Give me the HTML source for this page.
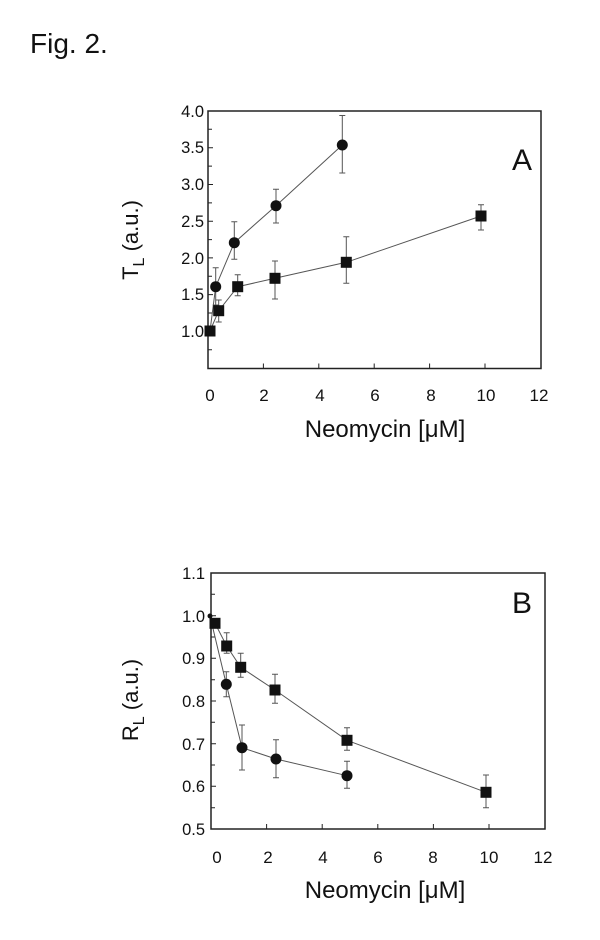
<!DOCTYPE html>
<html><head><meta charset="utf-8"><style>
html,body{margin:0;padding:0;background:#fff;}
svg{display:block;font-family:"Liberation Sans",Arial,sans-serif;}
</style></head><body>
<svg width="600" height="940" viewBox="0 0 600 940" xmlns="http://www.w3.org/2000/svg">
<text x="30" y="53" font-size="28" fill="#111">Fig. 2.</text>

<!-- Panel A -->
<g stroke="#222" fill="none">
<rect x="208" y="111" width="333" height="257.5" stroke-width="1.5"/>
<g stroke-width="1">
<path d="M208 129.3h4M208 147.8h5M208 166.1h4M208 184.5h5M208 202.9h4M208 221.2h5M208 239.6h4M208 257.9h5M208 276.3h4M208 294.6h5M208 313h4M208 331.3h5M208 349.7h4"/>
<path d="M263.4 368.5v-5M318.8 368.5v-5M374.2 368.5v-5M429.6 368.5v-5M485 368.5v-5"/>
</g>
</g>
<g font-size="16.5" fill="#111" text-anchor="end">
<text x="204" y="117">4.0</text><text x="204" y="153">3.5</text><text x="204" y="190">3.0</text>
<text x="204" y="227">2.5</text><text x="204" y="264">2.0</text><text x="204" y="300">1.5</text>
<text x="204" y="337">1.0</text>
</g>
<g font-size="17" fill="#111" text-anchor="middle">
<text x="210" y="401">0</text><text x="264" y="401">2</text><text x="320" y="401">4</text>
<text x="375" y="401">6</text><text x="431" y="401">8</text><text x="486" y="401">10</text><text x="539" y="401">12</text>
</g>
<text x="385" y="437" font-size="24" fill="#111" text-anchor="middle">Neomycin [μM]</text>
<text transform="translate(138,240) rotate(-90)" font-size="22" fill="#111" text-anchor="middle">T<tspan font-size="16" dy="6">L</tspan><tspan dy="-6">  (a.u.)</tspan></text>
<text x="512" y="170" font-size="30" fill="#111">A</text>

<g stroke="#555" stroke-width="1" fill="none">
<polyline points="210,331 215.7,286.7 234.3,242.7 276,205.7 342.3,145"/>
<polyline points="210,331 218.7,310.7 237.7,286.7 275,278.3 346.3,262.3 481,216"/>
<path d="M215.7 267.7V305M212.7 267.7h6M212.7 305h6"/>
<path d="M234.3 221.7V259.3M231.3 221.7h6M231.3 259.3h6"/>
<path d="M276 189.3V223M273 189.3h6M273 223h6"/>
<path d="M342.3 115.5V173M339.3 115.5h6M339.3 173h6"/>
<path d="M218.7 300V322M215.7 300h6M215.7 322h6"/>
<path d="M237.7 274.7V295.7M234.7 274.7h6M234.7 295.7h6"/>
<path d="M275 261V299M272 261h6M272 299h6"/>
<path d="M346.3 236.7V283.3M343.3 236.7h6M343.3 283.3h6"/>
<path d="M481 204.7V230M478 204.7h6M478 230h6"/>
</g>
<g fill="#111">
<circle cx="215.7" cy="286.7" r="5.5"/><circle cx="234.3" cy="242.7" r="5.5"/><circle cx="276" cy="205.7" r="5.5"/><circle cx="342.3" cy="145" r="5.5"/>
<rect x="204.5" y="325.5" width="11" height="11"/><rect x="213.2" y="305.2" width="11" height="11"/><rect x="232.2" y="281.2" width="11" height="11"/>
<rect x="269.5" y="272.8" width="11" height="11"/><rect x="340.8" y="256.8" width="11" height="11"/><rect x="475.5" y="210.5" width="11" height="11"/>
</g>

<!-- Panel B -->
<g stroke="#222" fill="none">
<rect x="211" y="573" width="334" height="256" stroke-width="1.5"/>
<g stroke-width="1">
<path d="M211 594.3h4M211 615.7h5M211 637h4M211 658.3h5M211 679.7h4M211 701h5M211 722.3h4M211 743.7h5M211 765h4M211 786.3h5M211 807.7h4"/>
<path d="M266.6 829v-5M322.2 829v-5M377.8 829v-5M433.4 829v-5M489 829v-5"/>
</g>
</g>
<g font-size="16.5" fill="#111" text-anchor="end">
<text x="205" y="579">1.1</text><text x="205" y="622">1.0</text><text x="205" y="664">0.9</text>
<text x="205" y="707">0.8</text><text x="205" y="750">0.7</text><text x="205" y="792">0.6</text><text x="205" y="835">0.5</text>
</g>
<g font-size="17" fill="#111" text-anchor="middle">
<text x="217" y="863">0</text><text x="268" y="863">2</text><text x="323" y="863">4</text>
<text x="378" y="863">6</text><text x="433" y="863">8</text><text x="489" y="863">10</text><text x="543" y="863">12</text>
</g>
<text x="385" y="898" font-size="24" fill="#111" text-anchor="middle">Neomycin [μM]</text>
<text transform="translate(138,700) rotate(-90)" font-size="22" fill="#111" text-anchor="middle">R<tspan font-size="16" dy="6">L</tspan><tspan dy="-6">  (a.u.)</tspan></text>
<text x="512" y="613" font-size="30" fill="#111">B</text>

<g stroke="#555" stroke-width="1" fill="none">
<polyline points="210,616 226.3,684.3 242,747.7 276,759 347,775.7"/>
<polyline points="210,616 215,623.3 226.7,646 240.7,667.3 275,690 347,740.3 486,792.3"/>
<path d="M226.3 671.7V696.7M223.3 671.7h6M223.3 696.7h6"/>
<path d="M242 725V770M239 725h6M239 770h6"/>
<path d="M276 739.7V777.7M273 739.7h6M273 777.7h6"/>
<path d="M347 761.3V788.3M344 761.3h6M344 788.3h6"/>
<path d="M226.7 632.7V653.3M223.7 632.7h6M223.7 653.3h6"/>
<path d="M240.7 653.3V677.3M237.7 653.3h6M237.7 677.3h6"/>
<path d="M275 674.3V703.3M272 674.3h6M272 703.3h6"/>
<path d="M347 727.7V750.3M344 727.7h6M344 750.3h6"/>
<path d="M486 775V807.7M483 775h6M483 807.7h6"/>
</g>
<g fill="#111">
<circle cx="210" cy="616" r="2.5"/>
<circle cx="226.3" cy="684.3" r="5.5"/><circle cx="242" cy="747.7" r="5.5"/><circle cx="276" cy="759" r="5.5"/><circle cx="347" cy="775.7" r="5.5"/>
<rect x="209.5" y="617.8" width="11" height="11"/><rect x="221.2" y="640.5" width="11" height="11"/><rect x="235.2" y="661.8" width="11" height="11"/>
<rect x="269.5" y="684.5" width="11" height="11"/><rect x="341.5" y="734.8" width="11" height="11"/><rect x="480.5" y="786.8" width="11" height="11"/>
</g>
</svg>
</body></html>
